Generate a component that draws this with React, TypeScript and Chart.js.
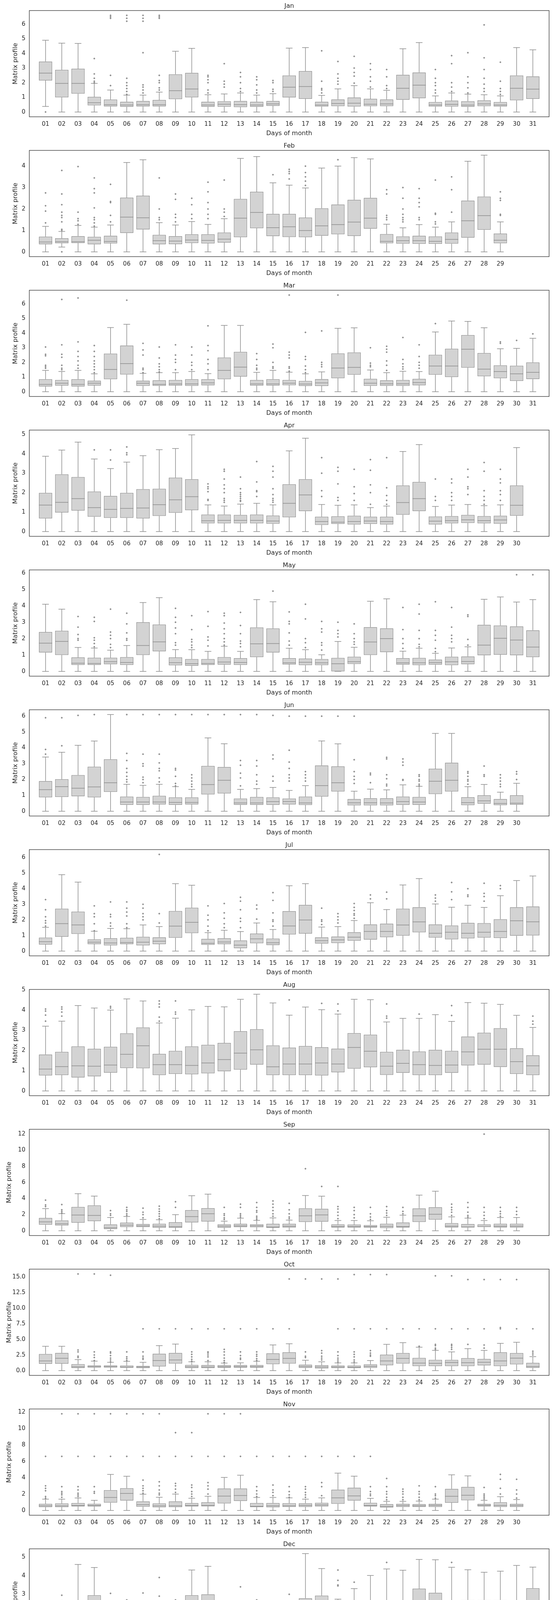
import { useEffect, useRef } from 'react';
import { Chart, registerables, type Plugin } from 'chart.js';

Chart.register(...registerables);
Chart.defaults.font.family = "'DejaVu Sans', sans-serif";
Chart.defaults.color = '#262626';

const LINE = '#8c8c8c';
const FILL = '#d3d3d3';

// box stats per day: [lowWhisker, q1, median, q3, highWhisker]
const jan = [
  [0.38, 2.15, 2.65, 3.45, 4.9], [0, 1.0, 1.95, 2.88, 4.7], [0, 1.25, 1.95, 2.95, 4.68], [0, 0.45, 0.63, 1.03, 1.95],
  [0, 0.38, 0.5, 0.85, 1.5], [0, 0.35, 0.48, 0.7, 1.15], [0, 0.38, 0.5, 0.75, 1.15], [0, 0.38, 0.5, 0.82, 1.36],
  [0, 0.88, 1.45, 2.57, 4.15], [0, 1.0, 1.57, 2.67, 4.35], [0, 0.35, 0.48, 0.7, 1.18], [0, 0.36, 0.53, 0.73, 1.23],
  [0, 0.33, 0.5, 0.75, 1.3], [0, 0.35, 0.48, 0.7, 1.15], [0, 0.42, 0.55, 0.75, 1.25], [0, 0.99, 1.69, 2.49, 4.36],
  [0, 0.9, 1.74, 2.79, 4.4], [0, 0.37, 0.47, 0.7, 1.13], [0, 0.4, 0.58, 0.86, 1.58], [0, 0.37, 0.6, 0.99, 1.8],
  [0, 0.4, 0.53, 0.9, 1.58], [0, 0.4, 0.55, 0.86, 1.48], [0, 0.83, 1.62, 2.54, 4.32], [0, 0.94, 1.83, 2.7, 4.74],
  [0, 0.37, 0.48, 0.68, 1.1], [0, 0.37, 0.52, 0.78, 1.3], [0, 0.35, 0.47, 0.73, 1.22], [0, 0.4, 0.55, 0.8, 1.18],
  [0, 0.37, 0.48, 0.68, 1.1], [0, 0.8, 1.62, 2.49, 4.4], [0, 0.9, 1.56, 2.43, 4.25],
];
const janOut = [
  [0], [], [], [2.0, 2.1, 2.3, 2.6, 3.65], [1.8, 2.5, 6.4, 6.5, 6.6], [1.2, 1.4, 1.6, 1.8, 2.0, 2.3, 6.2, 6.4, 6.6],
  [1.3, 1.5, 1.7, 1.85, 4.05, 6.2, 6.4, 6.6], [1.5, 1.65, 2.0, 2.15, 2.5, 6.4, 6.5, 6.6], [], [],
  [1.3, 1.5, 2.0, 2.2, 2.4, 2.5], [1.7, 1.9, 2.1, 3.3], [1.4, 1.6, 2.0, 2.4, 2.7], [1.3, 1.5, 1.85, 2.2, 2.4],
  [1.4, 1.55, 2.0, 2.15], [], [], [1.3, 1.5, 1.6, 2.1, 4.18], [1.9, 2.1, 2.3, 2.6, 3.45], [1.97, 2.45, 2.7, 3.0, 3.8],
  [1.7, 2.1, 2.4, 2.9, 3.3], [1.6, 1.8, 2.4, 2.9], [], [], [1.3, 1.5, 1.8, 2.0, 2.3, 2.9], [1.4, 1.7, 2.0, 3.3, 3.85],
  [1.3, 1.65, 2.0, 2.4, 4.05], [1.4, 1.6, 1.9, 2.3, 2.9, 3.7, 5.95], [1.2, 1.4, 1.6, 2.1, 3.4], [], [],
];

const feb = [
  [0, 0.35, 0.46, 0.71, 1.19], [0.22, 0.4, 0.47, 0.63, 0.95], [0, 0.41, 0.47, 0.73, 1.23], [0, 0.35, 0.54, 0.7, 1.15],
  [0, 0.39, 0.48, 0.75, 1.25], [0, 0.88, 1.62, 2.53, 4.17], [0, 1.04, 1.59, 2.62, 4.3], [0, 0.35, 0.52, 0.79, 1.36],
  [0, 0.36, 0.5, 0.73, 1.25], [0, 0.41, 0.55, 0.82, 1.41], [0, 0.39, 0.53, 0.82, 1.28], [0, 0.43, 0.59, 0.9, 1.55],
  [0, 0.68, 1.57, 2.47, 4.36], [0, 1.1, 1.84, 2.8, 4.45], [0, 0.73, 1.13, 1.77, 3.22], [0, 0.69, 1.17, 1.77, 3.11],
  [0, 0.68, 0.99, 1.6, 2.98], [0, 0.75, 1.21, 2.03, 3.91], [0, 0.82, 1.27, 2.21, 4.0], [0, 0.74, 1.39, 2.43, 4.4],
  [0, 1.08, 1.57, 2.52, 4.34], [0, 0.4, 0.49, 0.83, 1.29], [0, 0.38, 0.52, 0.72, 1.12], [0, 0.37, 0.52, 0.75, 1.27],
  [0, 0.37, 0.49, 0.72, 1.15], [0, 0.38, 0.58, 0.9, 1.4], [0, 0.66, 1.45, 2.39, 4.23], [0, 1.03, 1.69, 2.58, 4.51],
  [0, 0.4, 0.54, 0.85, 1.4],
];
const febOut = [
  [1.35, 1.9, 2.15, 2.75], [0, 1.0, 1.05, 1.4, 1.6, 1.7, 1.85, 2.2, 2.7, 3.8], [1.28, 1.45, 1.55, 1.85, 3.98],
  [1.2, 1.35, 1.5, 1.6, 2.05, 2.75, 2.95, 3.45], [1.4, 1.7, 2.3, 2.35, 3.15], [], [], [1.5, 1.6, 2.0, 3.45],
  [1.4, 1.6, 1.75, 2.45, 2.7], [1.55, 1.75, 2.2, 2.5], [1.55, 1.75, 2.0, 2.3, 2.8, 3.25], [1.65, 1.85, 2.0, 3.35],
  [], [], [3.6], [3.4, 3.65, 3.75, 3.85], [3.1, 3.3, 3.5, 3.7, 4.0], [], [4.3], [], [],
  [1.5, 1.6, 1.7, 2.7, 2.9], [1.4, 1.5, 1.6, 1.75, 2.0, 2.5, 3.0], [1.5, 1.6, 2.1, 2.3, 2.5, 2.95],
  [1.3, 1.4, 1.75, 1.8, 3.35], [1.85, 2.9, 3.5], [], [], [1.7, 1.75, 2.4, 2.5, 2.8],
];

const mar = [
  [0, 0.35, 0.5, 0.85, 1.45], [0, 0.42, 0.58, 0.8, 1.38], [0, 0.35, 0.5, 0.85, 1.45], [0, 0.42, 0.58, 0.75, 1.22],
  [0, 0.85, 1.52, 2.6, 4.38], [0, 1.17, 1.92, 3.15, 4.6], [0, 0.4, 0.57, 0.75, 1.25], [0, 0.4, 0.5, 0.78, 1.3],
  [0, 0.42, 0.53, 0.8, 1.3], [0, 0.4, 0.53, 0.85, 1.38], [0, 0.43, 0.6, 0.85, 1.23], [0, 0.85, 1.45, 2.33, 4.53],
  [0, 1.03, 1.68, 2.72, 4.53], [0, 0.42, 0.53, 0.8, 1.32], [0, 0.42, 0.53, 0.85, 1.45], [0, 0.44, 0.58, 0.8, 1.33],
  [0, 0.39, 0.52, 0.73, 1.22], [0, 0.39, 0.6, 0.86, 1.35], [0, 0.92, 1.61, 2.61, 4.33], [0, 1.16, 1.66, 2.68, 4.36],
  [0, 0.4, 0.58, 0.88, 1.48], [0, 0.4, 0.54, 0.78, 1.3], [0, 0.4, 0.54, 0.8, 1.39], [0, 0.43, 0.62, 0.87, 1.37],
  [0, 1.16, 1.75, 2.52, 4.08], [0, 1.0, 1.75, 2.93, 4.83], [0, 1.64, 2.9, 3.87, 4.8], [0, 1.05, 1.54, 2.64, 4.37],
  [0, 0.92, 1.37, 1.8, 2.93], [0, 0.73, 1.22, 1.77, 2.96], [0, 0.86, 1.32, 2.0, 3.65],
];
const marOut = [
  [1.6, 1.7, 1.8, 2.45, 2.55, 3.05], [1.5, 1.6, 1.8, 2.35, 2.55, 3.2, 6.3], [1.6, 1.8, 2.1, 2.4, 2.75, 3.4, 6.4],
  [1.3, 1.5, 1.7, 1.9, 2.1, 2.4, 2.75, 3.15], [], [6.25], [1.3, 1.5, 1.6, 2.5, 2.85, 3.3], [1.35, 1.5, 1.7, 1.9, 2.3, 3.05],
  [1.5, 2.0, 2.2, 2.5, 3.2], [1.5, 1.8, 2.0, 2.5, 3.05], [1.5, 1.9, 2.2, 2.8, 3.15, 4.5], [], [],
  [1.5, 1.6, 1.8, 2.2, 2.6], [1.6, 1.7, 2.0, 3.0, 3.25], [1.4, 1.6, 1.7, 2.3, 2.5, 2.7, 6.6],
  [1.3, 1.5, 1.75, 2.2, 2.4, 4.05], [1.7, 1.85, 2.0, 4.15], [6.6], [], [1.7, 1.8, 1.95, 3.0],
  [1.45, 1.8, 2.1, 2.7, 2.9, 3.1], [1.55, 1.7, 1.9, 2.2, 3.7], [1.6, 1.8, 2.0, 2.4, 3.2], [4.65], [], [], [],
  [3.3, 3.4], [3.5], [3.95],
];

const apr = [
  [0, 0.67, 1.36, 1.99, 3.87], [0, 0.98, 1.5, 2.94, 4.19], [0, 1.08, 1.69, 2.8, 4.6], [0, 0.76, 1.23, 2.06, 3.73],
  [0, 0.7, 1.14, 1.83, 3.24], [0, 0.7, 1.19, 1.99, 3.57], [0, 0.67, 1.21, 2.18, 3.9], [0, 0.8, 1.38, 2.2, 4.21],
  [0, 0.96, 1.63, 2.77, 4.27], [0, 1.1, 1.79, 2.69, 4.97], [0, 0.42, 0.55, 0.87, 1.37], [0, 0.42, 0.57, 0.87, 1.31],
  [0, 0.42, 0.57, 0.85, 1.41], [0, 0.42, 0.57, 0.87, 1.45], [0, 0.4, 0.54, 0.82, 1.37], [0, 0.73, 1.45, 2.43, 4.15],
  [0, 1.05, 1.88, 2.69, 4.8], [0, 0.34, 0.51, 0.76, 1.39], [0, 0.39, 0.48, 0.78, 1.35], [0, 0.36, 0.51, 0.81, 1.37],
  [0, 0.39, 0.54, 0.76, 1.23], [0, 0.36, 0.51, 0.76, 1.31], [0, 0.86, 1.49, 2.37, 4.12], [0, 1.05, 1.69, 2.55, 4.47],
  [0, 0.36, 0.53, 0.77, 1.29], [0, 0.42, 0.56, 0.79, 1.36], [0, 0.44, 0.6, 0.85, 1.39], [0, 0.42, 0.56, 0.79, 1.33],
  [0, 0.4, 0.59, 0.81, 1.37], [0, 0.81, 1.35, 2.37, 4.32],
];
const aprOut = [
  [], [], [], [4.2], [3.68, 4.2], [3.95, 4.05, 4.35], [], [], [], [], [1.6, 1.65, 2.05, 2.2, 2.3, 2.45],
  [1.5, 1.6, 1.7, 2.0, 2.2, 2.4, 2.7, 3.1, 3.2], [1.55, 1.6, 1.7, 1.8, 1.9, 2.0, 2.2, 2.8], [1.8, 2.05, 2.1, 2.55, 3.6],
  [1.5, 1.6, 1.7, 1.9, 2.2, 2.8, 3.1, 3.35], [], [], [1.8, 2.1, 3.0, 3.8], [1.6, 1.75, 2.45, 3.1, 3.3],
  [1.6, 1.95, 2.3, 3.2], [1.4, 2.0, 2.4, 3.15, 3.7], [1.4, 1.6, 1.85, 2.25, 3.8], [], [], [1.6, 1.8, 2.7],
  [1.6, 1.8, 2.0, 2.5, 2.7], [1.9, 2.2, 2.3, 2.8, 3.2], [1.4, 1.6, 1.8, 2.1, 3.1, 3.55], [1.6, 1.9, 2.1, 2.5, 2.7, 3.2], [],
];

const may = [
  [0, 1.15, 1.72, 2.4, 4.1], [0, 1.0, 1.83, 2.48, 3.8], [0, 0.39, 0.5, 0.85, 1.46], [0, 0.39, 0.48, 0.83, 1.42],
  [0, 0.43, 0.59, 0.83, 1.29], [0, 0.39, 0.54, 0.87, 1.58], [0, 1.0, 1.58, 3.0, 4.2], [0, 1.22, 1.8, 2.86, 4.5],
  [0, 0.37, 0.53, 0.85, 1.33], [0, 0.34, 0.47, 0.75, 1.32], [0, 0.39, 0.48, 0.75, 1.22], [0, 0.41, 0.57, 0.87, 1.53],
  [0, 0.39, 0.54, 0.8, 1.22], [0, 0.87, 1.68, 2.68, 4.38], [0, 1.15, 1.7, 2.62, 4.25], [0, 0.42, 0.52, 0.8, 1.41],
  [0, 0.38, 0.55, 0.78, 1.32], [0, 0.38, 0.52, 0.75, 1.01], [0, 0, 0.46, 0.82, 1.82], [0, 0.45, 0.59, 0.89, 1.47],
  [0, 1.0, 1.79, 2.7, 4.28], [0, 1.17, 2.0, 2.63, 4.43], [0, 0.41, 0.52, 0.8, 1.23], [0, 0.38, 0.52, 0.82, 1.41],
  [0, 0.41, 0.54, 0.72, 1.1], [0, 0.38, 0.58, 0.89, 1.43], [0, 0.43, 0.6, 0.91, 1.5], [0, 0.98, 1.6, 2.84, 4.4],
  [0, 1.02, 2.02, 2.8, 4.54], [0, 0.98, 1.91, 2.75, 4.23], [0, 0.87, 1.48, 2.51, 4.38],
];
const mayOut = [
  [], [], [1.9, 2.0, 2.25, 2.7, 3.35], [1.5, 1.7, 1.9, 2.05, 3.05, 3.3], [1.45, 1.65, 2.0, 2.2, 2.4, 3.8],
  [1.9, 2.0, 2.35, 2.9, 3.55], [], [], [1.6, 1.75, 2.3, 2.65, 3.0, 3.3, 3.85], [1.45, 1.6, 1.8, 1.95, 2.55, 3.4],
  [1.55, 1.9, 2.1, 2.75, 3.65], [1.6, 1.8, 2.0, 2.3, 2.6, 2.95, 3.4, 3.55], [1.5, 1.7, 1.85, 2.3, 2.8, 3.6], [], [4.9],
  [1.6, 1.85, 2.35, 2.9, 3.05, 3.63], [1.45, 1.75, 2.0, 3.2, 4.1], [1.3, 1.6, 1.75, 2.4, 2.6, 3.05], [2.1, 2.3, 2.5, 3.0],
  [1.65, 1.8, 2.0, 2.3, 2.9], [], [], [1.4, 1.7, 2.0, 2.55, 3.9], [1.5, 1.65, 2.0, 2.5, 3.5, 4.1],
  [1.2, 1.4, 1.9, 2.2, 2.5, 4.25], [1.8, 2.0, 2.2, 2.7, 3.9], [1.6, 1.95, 3.35, 3.45], [], [], [5.9], [5.9],
];

const jun = [
  [0, 0.87, 1.36, 1.9, 3.42], [0, 0.9, 1.55, 2.02, 3.72], [0, 0.94, 1.45, 2.28, 4.16], [0, 0.87, 1.53, 2.81, 4.43],
  [0, 1.22, 1.8, 3.28, 6.1], [0, 0.4, 0.58, 0.92, 1.7], [0, 0.4, 0.58, 0.9, 1.63], [0, 0.42, 0.58, 0.97, 1.7],
  [0, 0.4, 0.55, 0.87, 1.55], [0, 0.42, 0.55, 0.87, 1.38], [0, 1.06, 1.68, 2.86, 4.63], [0, 1.12, 1.95, 2.79, 4.26],
  [0, 0.4, 0.52, 0.8, 1.38], [0, 0.4, 0.52, 0.9, 1.43], [0, 0.4, 0.6, 0.87, 1.5], [0, 0.42, 0.61, 0.8, 1.31],
  [0, 0.39, 0.52, 0.92, 1.61], [0, 0.92, 1.61, 2.89, 4.44], [0, 1.24, 1.8, 2.83, 4.25], [0, 0.37, 0.53, 0.77, 1.26],
  [0, 0.37, 0.53, 0.82, 1.39], [0, 0.37, 0.52, 0.82, 1.35], [0, 0.4, 0.6, 0.92, 1.66], [0, 0.4, 0.58, 0.9, 1.57],
  [0, 1.08, 1.89, 2.68, 4.91], [0, 1.24, 1.95, 3.06, 4.91], [0, 0.38, 0.54, 0.88, 1.55], [0, 0.47, 0.65, 1.0, 1.69],
  [0, 0.38, 0.49, 0.77, 1.2], [0, 0.41, 0.5, 1.0, 1.76],
];
const junOut = [
  [3.6, 3.9, 5.9], [4.13, 5.9], [6.05], [6.1], [], [1.85, 2.0, 2.2, 2.45, 2.7, 3.2, 3.65, 6.1],
  [1.8, 2.0, 2.15, 2.85, 3.0, 3.6, 6.1], [1.85, 2.1, 2.55, 2.7, 3.05, 3.6, 6.1], [1.6, 1.75, 2.2, 2.6, 2.7, 6.1],
  [1.55, 1.7, 1.9, 2.1, 2.3, 6.1], [6.1], [6.1], [1.6, 2.1, 2.4, 2.9, 3.2, 6.1], [1.7, 1.9, 2.3, 2.85, 3.2, 6.1],
  [1.9, 2.2, 3.3, 3.55, 6.05], [1.9, 2.1, 2.3, 2.7, 3.1, 3.85, 6.0], [1.9, 2.1, 2.3, 2.5, 6.0], [6.0], [6.0],
  [1.75, 2.0, 2.2, 2.5, 3.25, 6.0], [1.8, 2.3, 2.4], [1.6, 1.7, 2.05, 2.3, 3.3, 3.4], [1.95, 2.0, 2.9, 3.1, 3.3],
  [1.6, 1.7, 1.9, 2.0, 2.2, 2.3], [], [], [1.7, 1.9, 2.0, 2.2, 2.4, 2.5], [2.2, 2.3, 2.85], [1.55, 1.7, 1.9, 2.1, 2.3],
  [2.0, 2.35, 2.5],
];

const jul = [
  [0, 0.42, 0.6, 0.86, 1.52], [0, 0.92, 1.76, 2.72, 4.9], [0, 1.1, 1.68, 2.53, 4.42], [0, 0.44, 0.57, 0.75, 1.27],
  [0, 0.36, 0.52, 0.82, 1.45], [0, 0.44, 0.55, 0.85, 1.43], [0, 0.36, 0.57, 0.91, 1.68], [0, 0.44, 0.63, 0.88, 1.57],
  [0, 0.85, 1.6, 2.57, 4.32], [0, 1.15, 1.84, 2.78, 4.22], [0, 0.4, 0.5, 0.78, 1.18], [0, 0.44, 0.58, 0.82, 1.33],
  [0, 0.18, 0.38, 0.68, 1.25], [0, 0.5, 0.78, 1.12, 1.8], [0, 0.38, 0.53, 0.8, 1.38], [0, 1.06, 1.61, 2.56, 4.19],
  [0, 1.12, 1.99, 2.96, 4.32], [0, 0.48, 0.66, 0.88, 1.54], [0, 0.51, 0.71, 0.93, 1.57], [0, 0.66, 0.89, 1.21, 1.96],
  [0, 0.73, 1.26, 1.71, 3.1], [0, 0.89, 1.26, 1.76, 2.66], [0, 0.99, 1.67, 2.72, 4.24], [0, 1.2, 1.87, 2.81, 4.65],
  [0, 0.86, 1.14, 1.71, 3.02], [0, 0.75, 1.21, 1.64, 2.81], [0, 0.81, 1.14, 1.81, 2.94], [0, 0.86, 1.21, 1.79, 2.8],
  [0, 0.84, 1.26, 2.04, 3.55], [0, 0.98, 1.94, 2.81, 4.52], [0, 1.0, 1.88, 2.86, 4.82],
];
const julOut = [
  [1.6, 1.8, 1.95, 2.2, 2.65, 3.3], [], [], [1.3, 1.75, 2.2, 2.4, 2.9], [1.6, 1.8, 2.2, 2.35, 3.15],
  [1.5, 1.75, 2.25, 2.5, 2.75, 3.15], [2.0, 2.2, 2.4, 2.75, 3.0], [1.8, 2.4, 6.2], [], [], [1.3, 1.6, 2.0, 2.3, 2.9],
  [1.5, 1.75, 2.1, 2.45, 3.05], [1.5, 1.9, 2.1, 2.65, 3.2, 3.45], [2.05, 2.7, 2.95], [1.6, 1.9, 2.0, 2.45, 3.25, 3.75],
  [], [], [1.7, 1.9, 2.0, 2.75], [1.8, 2.0, 2.2, 2.4], [2.1, 2.3, 2.4, 2.6, 2.8, 3.05], [3.35, 3.6], [3.35, 3.78], [], [],
  [3.2, 3.4, 3.6], [3.3, 3.8, 4.4], [3.5, 3.6, 4.0], [3.2, 3.5, 3.7, 4.35], [4.0, 4.2], [], [],
];

const aug = [
  [0, 0.76, 1.08, 1.8, 3.2], [0, 0.78, 1.2, 1.93, 3.45], [0, 0.66, 1.24, 2.2, 4.22], [0, 0.72, 1.22, 2.08, 4.1],
  [0, 0.9, 1.28, 2.18, 4.0], [0, 1.13, 1.81, 2.85, 4.55], [0, 1.12, 2.23, 3.14, 4.45], [0, 0.78, 1.3, 1.83, 3.36],
  [0, 0.84, 1.3, 1.98, 3.6], [0, 0.82, 1.26, 2.2, 4.01], [0, 0.87, 1.38, 2.28, 4.18], [0, 0.97, 1.55, 2.37, 4.16],
  [0, 1.05, 1.87, 2.95, 4.53], [0, 1.3, 2.03, 3.05, 4.78], [0, 0.78, 1.19, 2.25, 4.35], [0, 0.78, 1.33, 2.14, 3.75],
  [0, 0.78, 1.33, 2.22, 4.15], [0, 0.76, 1.38, 2.16, 4.02], [0, 0.92, 1.33, 2.09, 3.8], [0, 1.1, 2.15, 2.86, 4.53],
  [0, 1.17, 1.96, 2.78, 4.51], [0, 0.79, 1.22, 1.93, 3.41], [0, 0.89, 1.36, 2.03, 3.59], [0, 0.78, 1.3, 1.95, 3.59],
  [0, 0.78, 1.26, 2.03, 3.77], [0, 0.89, 1.28, 1.98, 3.44], [0, 1.26, 1.93, 2.69, 4.37], [0, 1.3, 2.06, 2.88, 4.34],
  [0, 1.18, 2.06, 3.1, 4.28], [0, 0.84, 1.45, 2.11, 3.74], [0, 0.78, 1.24, 1.76, 3.14],
];
const augOut = [
  [3.45, 3.75, 3.95, 4.05], [3.7, 3.9, 4.05, 4.15], [], [], [4.1, 4.18], [], [], [3.45, 3.65, 4.15, 4.3, 4.45],
  [3.8, 3.9, 4.45], [], [], [], [], [], [], [4.5], [], [4.33], [3.96, 4.3], [], [], [3.6, 3.7, 4.3], [], [3.8], [],
  [3.73, 4.22], [], [], [], [], [3.3, 3.45, 3.7],
];

const sep = [
  [0, 0.75, 1.1, 1.58, 2.75], [0, 0.65, 0.85, 1.28, 2.13], [0, 1.0, 1.95, 2.95, 4.6], [0, 1.2, 1.9, 3.15, 4.3],
  [0, 0.2, 0.37, 0.78, 1.65], [0, 0.45, 0.68, 1.0, 1.77], [0, 0.45, 0.6, 0.83, 1.4], [0, 0.37, 0.57, 0.87, 1.36],
  [0, 0.37, 0.5, 1.05, 2.0], [0, 1.03, 1.75, 2.55, 4.35], [0, 1.15, 2.1, 2.8, 4.55], [0, 0.37, 0.57, 0.8, 1.18],
  [0, 0.44, 0.6, 0.85, 1.56], [0, 0.43, 0.6, 0.8, 1.28], [0, 0.37, 0.45, 0.85, 1.6], [0, 0.4, 0.56, 0.85, 1.32],
  [0, 1.09, 1.85, 2.79, 4.38], [0, 1.12, 1.96, 2.72, 4.29], [0, 0.4, 0.5, 0.78, 1.27], [0, 0.4, 0.52, 0.76, 1.27],
  [0, 0.4, 0.5, 0.7, 1.23], [0, 0.34, 0.54, 0.87, 1.67], [0, 0.4, 0.5, 1.03, 1.94], [0, 1.09, 1.85, 2.77, 4.42],
  [0, 1.38, 2.05, 2.92, 4.91], [0, 0.4, 0.56, 0.94, 1.72], [0, 0.4, 0.47, 0.83, 1.56], [0, 0.45, 0.5, 0.78, 1.27],
  [0, 0.4, 0.56, 0.87, 1.65], [0, 0.4, 0.58, 0.87, 1.65],
];
const sepOut = [
  [3.0, 3.2, 3.8], [2.2, 2.4, 2.6, 3.25], [], [], [1.9, 2.1, 2.5], [1.9, 2.1, 2.4, 2.6, 2.9], [1.6, 2.0, 2.3, 2.8],
  [1.5, 1.8, 2.1, 2.4, 2.7, 3.05], [2.9, 3.6], [], [], [1.4, 1.6, 1.9, 2.1, 2.9], [1.7, 1.9, 2.1, 2.9, 3.3],
  [1.4, 1.6, 1.8, 2.3, 2.5, 2.9, 3.5], [1.8, 2.1, 2.5, 2.9, 3.3, 3.7], [1.5, 1.7, 2.1, 2.6, 3.4], [7.7], [5.5],
  [1.5, 1.9, 2.3, 2.7, 3.0, 5.5], [1.6, 2.0, 2.5, 2.9], [1.4, 1.7, 2.1, 2.9], [1.9, 2.2, 2.5, 3.0], [2.1, 2.4, 2.9],
  [], [], [1.9, 2.3, 2.6, 2.9, 3.3], [1.7, 1.9, 2.3, 2.9, 3.5], [1.5, 1.9, 2.3, 2.9, 12.0], [1.8, 2.1, 2.4, 2.9],
  [2.0, 2.4, 2.9],
];

const oct = [
  [0, 1.08, 1.55, 2.65, 3.9], [0, 1.1, 1.96, 2.83, 3.9], [0, 0.42, 0.6, 1.02, 1.77], [0, 0.5, 0.6, 0.82, 1.52],
  [0, 0.5, 0.6, 0.82, 1.32], [0, 0.44, 0.55, 0.8, 1.48], [0, 0.4, 0.58, 0.75, 1.33], [0, 0.67, 1.6, 2.7, 4.0],
  [0, 1.12, 1.7, 2.83, 4.25], [0, 0.4, 0.6, 0.9, 1.4], [0, 0.4, 0.58, 0.88, 1.4], [0, 0.45, 0.62, 0.85, 1.2],
  [0, 0.48, 0.62, 0.88, 1.25], [0, 0.48, 0.62, 0.88, 1.5], [0, 1.02, 1.78, 2.76, 4.12], [0, 1.12, 1.95, 2.92, 4.3],
  [0, 0.43, 0.63, 0.95, 1.66], [0, 0.34, 0.57, 0.86, 1.4], [0, 0.4, 0.57, 0.8, 1.23], [0, 0.4, 0.54, 0.8, 1.23],
  [0, 0.43, 0.69, 1.0, 1.6], [0, 0.86, 1.55, 2.55, 4.21], [0, 1.12, 1.95, 2.81, 4.47], [0, 0.72, 1.2, 2.03, 3.75],
  [0, 0.72, 1.15, 1.72, 3.24], [0, 0.72, 1.29, 1.72, 3.0], [0, 0.72, 1.26, 2.0, 3.52], [0, 0.83, 1.32, 1.86, 3.24],
  [0, 0.72, 1.55, 2.92, 4.36], [0, 1.0, 2.0, 2.81, 4.53], [0, 0.43, 0.63, 1.23, 2.23],
];
const octOut = [
  [], [], [2.1, 2.3, 3.0, 3.3, 15.5], [1.6, 2.1, 2.5, 3.0, 15.5], [1.4, 1.7, 2.0, 2.4, 2.8, 3.0, 15.3],
  [1.6, 1.9, 2.2, 3.0], [1.8, 2.0, 2.3, 3.0, 6.7], [6.7], [6.7], [1.5, 1.8, 2.2, 2.6, 3.0, 6.7],
  [1.6, 2.2, 2.5, 2.8, 3.0, 6.7], [1.3, 1.6, 2.0, 2.5, 3.0, 3.4, 6.7], [1.8, 2.0, 2.4, 3.0, 6.7],
  [1.6, 1.9, 2.3, 2.6, 3.0, 6.7], [6.7], [6.7, 14.7], [2.1, 2.3, 3.0, 14.7], [1.7, 2.0, 2.3, 2.8, 3.2, 14.7],
  [1.4, 1.7, 2.0, 2.4, 3.0, 6.7, 14.7], [1.4, 1.7, 2.2, 2.6, 3.0, 6.7, 15.4], [2.3, 2.5, 2.8, 3.2, 6.7, 15.4],
  [6.7, 15.4], [6.7], [3.9, 6.7], [3.4, 3.6, 4.0, 4.2, 6.7, 15.2], [3.4, 3.7, 4.0, 4.2, 6.7, 15.2], [4.2, 6.7, 14.6],
  [3.6, 4.1, 6.7, 14.6], [6.7, 6.9, 14.6], [6.7, 14.6], [2.5, 2.8, 3.1, 6.7],
];

const nov = [
  [0, 0.4, 0.57, 0.8, 1.38], [0, 0.4, 0.55, 0.85, 1.38], [0, 0.48, 0.6, 0.9, 1.52], [0, 0.48, 0.6, 0.8, 1.23],
  [0, 0.95, 1.58, 2.48, 4.4], [0, 1.2, 2.07, 2.72, 4.17], [0, 0.45, 0.7, 1.1, 1.98], [0, 0.38, 0.55, 0.85, 1.6],
  [0, 0.4, 0.57, 1.1, 2.0], [0, 0.48, 0.6, 0.9, 1.48], [0, 0.5, 0.62, 0.99, 1.72], [0, 0.85, 1.75, 2.68, 4.03],
  [0, 1.15, 1.82, 2.68, 4.3], [0, 0.4, 0.5, 0.9, 1.58], [0, 0.38, 0.55, 0.9, 1.58], [0, 0.42, 0.57, 0.88, 1.53],
  [0, 0.42, 0.61, 0.88, 1.38], [0, 0.48, 0.68, 0.92, 1.53], [0, 0.81, 1.53, 2.54, 4.55], [0, 1.2, 1.77, 2.78, 4.18],
  [0, 0.48, 0.59, 0.92, 1.47], [0, 0.35, 0.48, 0.77, 1.1], [0, 0.42, 0.59, 0.79, 1.1], [0, 0.42, 0.57, 0.77, 1.14],
  [0, 0.42, 0.61, 0.79, 1.38], [0, 0.94, 1.73, 2.63, 4.35], [0, 1.23, 1.86, 2.87, 4.22], [0, 0.48, 0.63, 0.79, 1.23],
  [0, 0.42, 0.61, 1.0, 1.68], [0, 0.42, 0.59, 0.79, 1.33],
];
const novOut = [
  [1.5, 1.7, 2.4, 2.7, 3.0, 6.6], [1.6, 1.9, 2.1, 2.3, 2.9, 6.6, 11.8], [1.7, 1.9, 2.1, 2.5, 2.9, 6.6, 11.8],
  [2.1, 2.3, 2.9, 6.6, 11.8], [6.6, 11.8], [6.6, 11.8], [2.1, 2.4, 2.7, 3.0, 3.7, 6.6, 11.8],
  [1.9, 2.1, 2.5, 3.0, 3.5, 6.6, 11.8], [2.2, 2.6, 3.0, 3.3, 6.6, 9.5], [1.7, 2.0, 2.3, 2.8, 3.1, 6.6, 9.5],
  [2.0, 2.6, 3.0, 3.4, 6.6, 11.8], [6.6, 11.8], [6.6, 11.8], [1.7, 2.0, 2.4, 2.9, 6.6], [1.8, 2.2, 2.5, 3.1, 6.6],
  [1.6, 1.9, 2.3, 2.9, 6.6], [1.6, 1.9, 2.2, 2.6, 2.9, 6.6], [1.8, 2.9, 3.4, 6.6], [6.6], [6.6],
  [1.8, 2.0, 2.3, 2.9, 6.6], [1.3, 1.6, 2.0, 2.3, 2.9, 3.9], [1.3, 1.6, 2.0, 2.3, 2.6], [1.3, 1.6, 2.0, 2.3, 3.0],
  [1.5, 1.8, 2.0, 2.9], [], [], [1.4, 1.6, 1.8, 2.0, 2.8], [2.0, 2.7, 3.8, 4.4], [1.5, 2.0, 2.5, 3.8],
];

const dec = [
  [0, 0.4, 0.6, 0.88, 1.3], [0, 0.45, 0.63, 0.85, 1.4], [0, 0.83, 1.65, 2.63, 4.6], [0, 1.1, 1.82, 2.95, 4.44],
  [0, 0.38, 0.53, 0.88, 1.57], [0, 0.38, 0.52, 0.75, 1.2], [0, 0.4, 0.52, 0.95, 1.65], [0, 0.4, 0.58, 0.85, 1.3],
  [0, 0.38, 0.58, 0.87, 1.57], [0, 1.0, 1.6, 2.95, 4.3], [0, 1.0, 1.82, 3.0, 4.5], [0, 0.38, 0.53, 0.75, 1.27],
  [0, 0.4, 0.57, 0.77, 1.1], [0, 0.4, 0.55, 0.83, 1.5], [0, 0.43, 0.53, 0.8, 1.33], [0, 0.55, 0.79, 1.04, 1.71],
  [0, 0.9, 1.62, 2.79, 5.18], [0, 1.08, 1.74, 2.93, 4.38], [0, 0.71, 1.15, 1.8, 2.74], [0, 0.71, 1.17, 1.89, 3.31],
  [0, 0.67, 1.24, 2.08, 4.01], [0, 0.84, 1.36, 2.29, 4.36], [0, 0.86, 1.76, 2.6, 4.29], [0, 1.03, 2.12, 3.3, 4.87],
  [0, 1.36, 2.1, 3.08, 4.85], [0, 1.19, 1.9, 2.6, 4.45], [0, 1.1, 2.0, 2.7, 4.32], [0, 0.88, 1.7, 2.7, 4.18],
  [0, 0.86, 1.62, 2.7, 4.24], [0, 0.8, 1.45, 2.58, 4.55], [0, 1.24, 2.27, 3.33, 4.46],
];
const decOut = [
  [1.65, 1.9, 2.0, 2.4, 2.5], [1.6, 1.75, 1.9, 2.05, 2.65, 2.95], [], [], [1.7, 2.0, 2.05, 3.05],
  [1.3, 1.45, 1.6, 1.8, 2.0, 2.55, 2.7], [1.9, 2.1, 3.07], [1.65, 1.9, 2.1, 2.25, 2.9, 3.9], [1.65, 2.2, 2.45, 2.7],
  [], [], [1.4, 1.5, 1.7, 1.9, 2.2, 2.35], [1.4, 1.6, 1.95, 2.45, 3.4], [1.6, 2.1, 2.3, 2.6, 2.7],
  [1.4, 1.6, 1.8, 1.9, 2.2, 2.55], [2.0, 2.1, 3.0], [], [], [3.45, 3.5, 3.75, 4.3], [3.65], [], [4.71], [], [], [],
  [4.71], [], [], [], [], [],
];

const ticksInt4 = [0, 1, 2, 3, 4];
const ticksInt5 = [0, 1, 2, 3, 4, 5];
const ticksInt6 = [0, 1, 2, 3, 4, 5, 6];
const ticksEven12 = [0, 2, 4, 6, 8, 10, 12];
const ticksOct = [0, 2.5, 5, 7.5, 10, 12.5, 15];

const dayLabels = ['01', '02', '03', '04', '05', '06', '07', '08', '09', '10', '11', '12', '13', '14', '15', '16',
  '17', '18', '19', '20', '21', '22', '23', '24', '25', '26', '27', '28', '29', '30', '31'];
// the axis keeps a half-slot margin on each side of the 31 day slots
const axisLabels = ['pre', ...dayLabels, 'post'];
const daysInMonth = [31, 29, 31, 30, 31, 30, 31, 31, 30, 31, 30, 31];

const months = [
  { name: 'Jan', boxes: jan, out: janOut, ticks: ticksInt6 },
  { name: 'Feb', boxes: feb, out: febOut, ticks: ticksInt4 },
  { name: 'Mar', boxes: mar, out: marOut, ticks: ticksInt6 },
  { name: 'Apr', boxes: apr, out: aprOut, ticks: ticksInt5 },
  { name: 'May', boxes: may, out: mayOut, ticks: ticksInt6 },
  { name: 'Jun', boxes: jun, out: junOut, ticks: ticksInt6 },
  { name: 'Jul', boxes: jul, out: julOut, ticks: ticksInt6 },
  { name: 'Aug', boxes: aug, out: augOut, ticks: ticksInt5 },
  { name: 'Sep', boxes: sep, out: sepOut, ticks: ticksEven12 },
  { name: 'Oct', boxes: oct, out: octOut, ticks: ticksOct },
  { name: 'Nov', boxes: nov, out: novOut, ticks: ticksEven12 },
  { name: 'Dec', boxes: dec, out: decOut, ticks: ticksInt5 },
];

type Month = (typeof months)[number];

const boxPlugin: Plugin = {
  id: 'boxParts',
  afterDatasetsDraw(chart, _a, opts: any) {
    const boxes: number[][] = opts.boxes;
    const { ctx, chartArea } = chart;
    const x = chart.scales.x;
    const y = chart.scales.y;
    const meta = chart.getDatasetMeta(0);
    ctx.save();
    ctx.strokeStyle = LINE;
    ctx.lineWidth = 1.5;
    boxes.forEach((b, i) => {
      const el: any = meta.data[i + 1];
      if (!el) return;
      const cx = x.getPixelForValue(i + 1);
      const w = el.width;
      const [lo, q1, med, q3, hi] = b.map((v) => y.getPixelForValue(v));
      ctx.beginPath();
      ctx.moveTo(cx, lo); ctx.lineTo(cx, q1);
      ctx.moveTo(cx, q3); ctx.lineTo(cx, hi);
      ctx.moveTo(cx - w / 4, lo); ctx.lineTo(cx + w / 4, lo);
      ctx.moveTo(cx - w / 4, hi); ctx.lineTo(cx + w / 4, hi);
      ctx.moveTo(cx - w / 2, med); ctx.lineTo(cx + w / 2, med);
      ctx.stroke();
    });
    ctx.strokeStyle = '#262626';
    ctx.lineWidth = 1.25;
    ctx.strokeRect(chartArea.left, chartArea.top, chartArea.right - chartArea.left, chartArea.bottom - chartArea.top);
    ctx.fillStyle = '#262626';
    ctx.font = "16px 'DejaVu Sans', sans-serif";
    ctx.textAlign = 'center';
    ctx.textBaseline = 'alphabetic';
    ctx.fillText(opts.title, (chartArea.left + chartArea.right) / 2, chartArea.top - 7);
    ctx.restore();
  },
};

function MonthBox({ m, idx, h }: { m: Month; idx: number; h: number }) {
  const ref = useRef<HTMLCanvasElement>(null);
  useEffect(() => {
    if (!ref.current) return;
    const shown = daysInMonth[idx];
    const allVals = m.boxes.flat().concat(m.out.flat());
    const top = Math.max(...allVals);
    const pad = top * 0.05;
    const wide = m.ticks[m.ticks.length - 1] >= 10;
    const boxData: ([number, number] | null)[] = axisLabels.map((_l, i) => {
      const b = m.boxes[i - 1];
      return b ? [b[1], b[3]] : null;
    });
    const pts: { x: string; y: number }[] = [];
    m.out.forEach((arr, i) => arr.forEach((v) => pts.push({ x: axisLabels[i + 1], y: v })));
    const chart = new Chart(ref.current, {
      type: 'bar',
      data: {
        labels: axisLabels,
        datasets: [
          {
            type: 'bar',
            data: boxData as any,
            backgroundColor: FILL,
            borderColor: LINE,
            borderWidth: 1.5,
            borderSkipped: false,
            categoryPercentage: 0.82,
            barPercentage: 1,
          },
          {
            type: 'scatter',
            data: pts as any,
            pointStyle: 'rectRot',
            radius: 2.6,
            backgroundColor: LINE,
            borderColor: LINE,
            borderWidth: 0,
          },
        ],
      },
      options: {
        responsive: false,
        animation: false,
        devicePixelRatio: 1,
        layout: { padding: { top: 27, right: 7, bottom: h - 299 - 52, left: wide ? 14 : 30 } },
        plugins: {
          legend: { display: false },
          tooltip: { enabled: false },
          boxParts: { boxes: m.boxes, title: m.name },
        } as any,
        scales: {
          x: {
            type: 'category',
            offset: false,
            grid: { display: false, drawTicks: false },
            border: { display: false },
            ticks: {
              padding: 10,
              font: { size: 15 },
              color: '#262626',
              maxRotation: 0,
              autoSkip: false,
              callback: (_v, i) => (i >= 1 && i <= shown ? axisLabels[i] : ''),
            },
            title: { display: true, text: 'Days of month', font: { size: 16 }, color: '#262626', padding: { top: 1, bottom: 0 } },
            afterFit: (s: any) => { s.height = 52; },
          },
          y: {
            min: -pad,
            max: top + pad,
            grid: { display: false, drawTicks: false },
            border: { display: false },
            afterBuildTicks: (s: any) => { s.ticks = m.ticks.map((v) => ({ value: v })); },
            ticks: {
              padding: 10,
              font: { size: 15 },
              color: '#262626',
              callback: (v) => (m.name === 'Oct' ? Number(v).toFixed(1) : String(v)),
            },
            title: { display: true, text: 'Matrix profile', font: { size: 16 }, color: '#262626', padding: { top: 0, bottom: 0 } },
            afterFit: (s: any) => { s.width = wide ? 61 : 45; },
          },
        },
      },
      plugins: [boxPlugin],
    });
    return () => chart.destroy();
  }, [m, idx, h]);
  return <canvas ref={ref} width={1415} height={h} style={{ display: 'block' }} />;
}

export default function App() {
  useEffect(() => {
    document.body.style.margin = '0';
    document.body.style.background = '#ffffff';
    document.documentElement.style.overflow = 'hidden';
  }, []);
  return (
    <div style={{ width: 1415, background: '#fff', overflow: 'hidden' }}>
      {months.map((m, i) => (
        <MonthBox key={m.name} m={m} idx={i} h={i === months.length - 1 ? 357 : 358} />
      ))}
    </div>
  );
}
